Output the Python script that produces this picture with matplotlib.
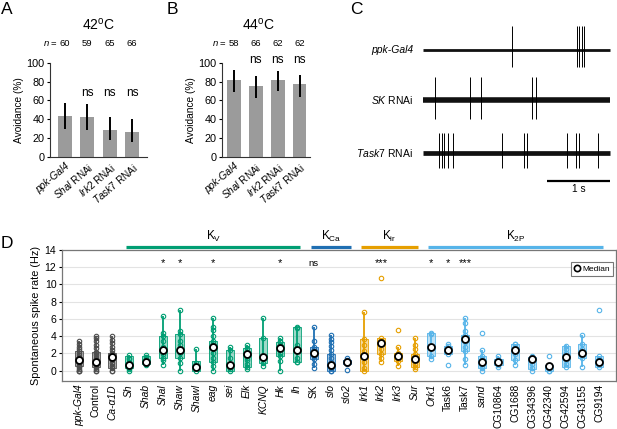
import matplotlib.pyplot as plt
from matplotlib.lines import Line2D
from matplotlib.patches import Rectangle
from matplotlib.transforms import blended_transform_factory
import numpy as np

plt.rcParams['font.family'] = ['Liberation Sans', 'DejaVu Sans']
plt.rcParams['mathtext.fontset'] = 'custom'
plt.rcParams['mathtext.rm'] = 'Liberation Sans'
plt.rcParams['mathtext.it'] = 'Liberation Sans:italic'
plt.rcParams['mathtext.bf'] = 'Liberation Sans:bold'

# ---- panel A / B: avoidance ----
avoid_labels = ['ppk-Gal4', r'$\mathit{Shal}$ RNAi', r'$\mathit{Irk2}$ RNAi', r'$\mathit{Task7}$ RNAi']
avoid_42 = [43, 42, 29, 27]
avoid_42_lo = [30, 29, 18, 16]
avoid_42_hi = [57, 56, 42, 40]
n_42 = [60, 59, 65, 66]
avoid_44 = [82, 75, 82, 77]
avoid_44_lo = [69, 63, 70, 64]
avoid_44_hi = [92, 86, 91, 87]
n_44 = [58, 66, 62, 62]

# ---- panel C: example traces (spike times in s) ----
trace_labels = ['ppk-Gal4', r'$\mathit{SK}$ RNAi', r'$\mathit{Task7}$ RNAi']
trace_len = 2.97
spikes_ppk = [1.41, 2.44, 2.48, 2.52, 2.55]
spikes_sk = [0.19, 0.75, 0.92, 1.73, 1.79]
spikes_task7 = [0.26, 0.30, 0.34, 0.39, 0.47, 1.26, 1.60, 1.65, 2.28, 2.43, 2.48, 2.77]

# ---- panel D: spontaneous spike rate ----
genes = ['ppk-Gal4', 'Control', 'Ca-α1D', 'Sh', 'Shab', 'Shal', 'Shaw', 'Shawl', 'eag', 'sei',
         'Elk', 'KCNQ', 'Hk', 'Ih', 'SK', 'slo', 'slo2', 'Irk1', 'Irk2', 'Irk3', 'Sur',
         'Ork1', 'Task6', 'Task7', 'sand', 'CG10864', 'CG1688', 'CG34396', 'CG42340',
         'CG42594', 'CG43155', 'CG9194']
gene_italic = [1, 0, 1, 1, 1, 1, 1, 1, 1, 1, 1, 1, 1, 1, 0, 1, 1, 1, 1, 1, 1, 1, 0, 0, 1,
               0, 0, 0, 0, 0, 0, 0]
gene_group = [0] * 3 + [1] * 11 + [2] * 3 + [3] * 4 + [4] * 11
group_names = ['', r'K$_\mathrm{V}$', r'K$_\mathrm{Ca}$', r'K$_\mathrm{ir}$', r'K$_\mathrm{2P}$']
rate_median = [1.23, 1.04, 1.54, 0.7, 0.96, 2.4, 2.4, 0.4, 2.77, 0.7, 1.9, 1.55, 2.58, 2.38,
               2.08, 0.7, 1.04, 1.65, 3.23, 1.7, 1.35, 2.7, 2.42, 3.73, 1.04, 1.04, 2.38,
               1.35, 0.5, 1.54, 2.0, 1.04]
rate_q1 = [0.5, 0.45, 0.3, 0.27, 0.75, 1.5, 1.5, 0.0, 1.0, 0.0, 0.45, 0.9, 1.73, 0.96,
           1.35, 0.0, 0.73, 0.0, 1.92, 1.15, 0.4, 1.73, 1.92, 2.3, 0.3, 0.65, 1.27, 0.2,
           0.0, 0.4, 1.46, 0.4]
rate_q3 = [2.3, 2.2, 2.0, 1.65, 1.75, 4.0, 4.2, 1.1, 3.5, 2.4, 2.6, 3.77, 3.35, 5.08,
           2.8, 1.9, 1.23, 3.73, 3.85, 2.1, 1.92, 4.42, 2.9, 4.1, 1.73, 1.35, 3.08, 1.54,
           0.65, 2.9, 3.08, 1.73]
rate_wlo = [0, 0, 0, 0, 0.7, 0.65, 0, 0, 0, 0, 0.2, 0.6, 0, 0.96, 0.3, 0, 0.73, 0, 0.96,
            0.6, 0.2, 1.35, 1.92, 0.7, 0, 0.4, 0.7, 0, 0, 0.4, 0.4, 0.4]
rate_whi = [3.4, 4.0, 4.0, 1.77, 1.77, 6.4, 7.0, 2.46, 6.08, 2.77, 3.0, 6.08, 3.8, 5.08,
            5.08, 4.1, 1.23, 6.8, 3.85, 2.8, 3.8, 4.42, 3.15, 6.08, 2.42, 1.73, 3.15, 1.73,
            0.65, 3.0, 4.1, 1.73]
rate_points = [
    [0, 0, 0, 0.2, 0.4, 0.5, 0.7, 0.9, 1.0, 1.2, 1.4, 1.6, 1.8, 2.0, 2.3, 2.5, 2.7, 3.1, 3.4],
    [0, 0, 0.2, 0.45, 0.6, 0.8, 1.0, 1.2, 1.5, 1.8, 2.0, 2.2, 2.6, 3.0, 3.4, 3.8, 4.0],
    [0, 0, 0.3, 0.6, 0.9, 1.2, 1.5, 1.8, 2.0, 2.4, 2.8, 3.2, 3.6, 4.0],
    [0, 0.2, 0.35, 0.7, 1.0, 1.3, 1.5, 1.77],
    [0.7, 0.8, 1.0, 1.3, 1.6, 1.77],
    [0.65, 1.2, 1.5, 1.9, 2.4, 2.8, 3.5, 4.0, 4.4, 6.4],
    [0, 0.9, 1.5, 2.0, 2.4, 3.0, 3.5, 4.2, 4.6, 7.0],
    [0, 0.4, 0.9, 2.46],
    [0, 0.5, 1.0, 1.5, 2.0, 2.77, 3.2, 3.5, 4.0, 4.7, 5.1, 6.08],
    [0, 0.2, 0.7, 1.5, 2.4, 2.77],
    [0.2, 0.45, 0.8, 1.2, 1.5, 1.9, 2.2, 2.6, 3.0],
    [0.6, 0.9, 1.55, 3.77, 6.08],
    [0, 1.15, 1.73, 2.0, 2.58, 3.0, 3.35, 3.5, 3.8],
    [0.96, 1.0, 1.5, 2.38, 3.0, 5.0, 5.08],
    [0.3, 0.8, 1.35, 1.7, 2.08, 2.5, 2.8, 3.5, 5.08],
    [0, 0, 0.3, 0.7, 1.0, 1.5, 1.9, 2.4, 2.9, 3.3, 3.65, 4.1],
    [0.1, 0.73, 1.04, 1.23, 1.46],
    [0, 0.3, 1.0, 1.65, 2.3, 3.0, 3.73, 6.8],
    [0.96, 1.5, 1.92, 2.5, 3.23, 3.5, 3.85, 10.77],
    [0.6, 1.15, 1.7, 2.1, 2.8, 4.73],
    [0.2, 0.4, 0.8, 1.35, 1.92, 2.5, 3.0, 3.8],
    [1.35, 1.73, 2.7, 4.2, 4.42],
    [0.7, 1.92, 2.42, 2.9, 3.15],
    [0.7, 1.3, 2.3, 2.8, 3.3, 3.73, 4.1, 4.6, 5.5, 6.08],
    [0, 0.3, 0.6, 1.04, 1.4, 1.73, 2.42, 4.38],
    [0.4, 0.65, 1.04, 1.35, 1.73],
    [0.7, 1.27, 1.9, 2.38, 2.8, 3.08, 3.15],
    [0, 0.3, 0.8, 1.35, 1.54, 1.73],
    [0, 0, 0.3, 0.5, 0.65, 1.73],
    [0.4, 0.8, 1.2, 1.54, 2.0, 2.5, 2.9],
    [0.4, 1.46, 2.0, 2.5, 3.08, 4.1],
    [0.4, 0.7, 1.04, 1.4, 1.73, 7.04],
]
sig_marks = ['', '', '', '', '', '*', '*', '', '*', '', '', '', '*', '', 'ns', '', '',
             '', '***', '', '', '*', '*', '***', '', '', '', '', '', '', '', '']

group_colors = ['#4d4d4d', '#009E73', '#1f6fb2', '#E69F00', '#56B4E9']
BAR_GRAY = '#9b9b9b'

W, H = 617, 429
fig = plt.figure(figsize=(W / 100, H / 100), dpi=100)


def px_axes(left, top, right, bottom):
    return fig.add_axes([left / W, 1 - bottom / H, (right - left) / W, (bottom - top) / H])


def avoid_panel(ax, vals, lo, hi, ns, title, title_x, xlim):
    x = np.arange(len(vals))
    ax.bar(x, vals, width=0.63, color=BAR_GRAY, zorder=1)
    ax.vlines(x, lo, hi, color='black', lw=1.4, zorder=2)
    ax.set_xlim(*xlim)
    ax.set_ylim(0, 100)
    ax.set_yticks(range(0, 101, 20))
    ax.set_xticks(x)
    ax.set_xticklabels(avoid_labels, rotation=40, ha='right', rotation_mode='anchor',
                       fontsize=7.2)
    ax.get_xticklabels()[0].set_fontstyle('italic')
    ax.tick_params(axis='x', length=0, pad=3)
    ax.tick_params(axis='y', labelsize=7.8, length=2.5, width=0.8, pad=1.5)
    ax.set_ylabel('Avoidance (%)', fontsize=7.3, labelpad=2)
    for side in ['top', 'right']:
        ax.spines[side].set_visible(False)
    for side in ['left', 'bottom']:
        ax.spines[side].set_color('#333333')
        ax.spines[side].set_linewidth(0.8)
    # significance and n
    ns_y = max(hi) + 4
    for xi in x[1:]:
        ax.text(xi, ns_y, 'ns', ha='center', va='bottom', fontsize=8.5, clip_on=False)
    for xi, n in zip(x, ns):
        ax.text(xi, 120, str(n), ha='center', va='center', fontsize=6.8, clip_on=False)
    ax.text(-0.3, 120, r'$n$ =', ha='right', va='center', fontsize=6.8, clip_on=False)
    ax.text(title_x, 140, title, ha='center', va='center', fontsize=10, clip_on=False)


ax_a = px_axes(50, 62.7, 147, 157)
avoid_panel(ax_a, avoid_42, avoid_42_lo, avoid_42_hi, n_42, r'42$^\mathrm{o}$C', 1.5,
            (-0.67, 3.67))
ax_b = px_axes(222, 62.7, 310, 157)
avoid_panel(ax_b, avoid_44, avoid_44_lo, avoid_44_hi, n_44, r'44$^\mathrm{o}$C', 1.1,
            (-0.55, 3.48))

# ---- C ----
ax_c = px_axes(423, 15, 612, 200)
ax_c.set_xlim(0, 3.0)
ax_c.set_ylim(200, 15)
ax_c.axis('off')
trace_spikes = [spikes_ppk, spikes_sk, spikes_task7]
trace_base = [50, 100, 153]
trace_band = [2.0, 4.0, 3.4]
trace_up = [24, 23, 20]
trace_down = [17, 19, 15]
for lab, sp, base, band, up, dn in zip(trace_labels, trace_spikes, trace_base,
                                        trace_band, trace_up, trace_down):
    ax_c.hlines(base, 0, trace_len, color='#111111', lw=band)
    ax_c.vlines(sp, base - up, base + dn, color='black', lw=0.7)
    t = ax_c.text(-0.16, base, lab, ha='right', va='center', fontsize=7.5)
    if lab == 'ppk-Gal4':
        t.set_fontstyle('italic')
ax_c.hlines(181, trace_len - 1, trace_len, color='black', lw=1.6)
ax_c.text(trace_len - 0.5, 189, '1 s', ha='center', va='center', fontsize=7.3)

# ---- D ----
ax_d = px_axes(62, 250, 616, 380.7)
xd = np.arange(len(genes))
for i in xd:
    c = group_colors[gene_group[i]]
    ax_d.vlines(i, rate_wlo[i], rate_whi[i], color=c, lw=1.3, zorder=2)
    ax_d.add_patch(Rectangle((i - 0.24, rate_q1[i]), 0.48, rate_q3[i] - rate_q1[i],
                             facecolor=c, alpha=0.38, edgecolor='none', zorder=2))
    ax_d.add_patch(Rectangle((i - 0.24, rate_q1[i]), 0.48, rate_q3[i] - rate_q1[i],
                             facecolor='none', edgecolor=c, lw=0.6, zorder=2))
    pts = rate_points[i]
    ax_d.plot([i] * len(pts), pts, 'o', ls='none', ms=3.2, mfc='none', mec=c, mew=0.8,
              zorder=3)
    ax_d.plot(i, rate_median[i], 'o', ms=5, mfc='white', mec='black', mew=1.3, zorder=4)
    if sig_marks[i]:
        ax_d.text(i, 12.45, sig_marks[i], ha='center', va='center',
                  fontsize=6.8 if sig_marks[i] == 'ns' else 8, zorder=5)

ax_d.set_xlim(-1, 32)
ax_d.set_ylim(-1.16, 14)
ax_d.set_yticks(range(0, 15, 2))
ax_d.yaxis.grid(True, color='#e3e3e3', lw=0.8, zorder=0)
ax_d.set_axisbelow(True)
ax_d.set_xticks(xd)
ax_d.set_xticklabels(genes, rotation=90, fontsize=7.4)
for t, it in zip(ax_d.get_xticklabels(), gene_italic):
    t.set_fontstyle('italic' if it else 'normal')
ax_d.tick_params(axis='x', length=0, pad=2.5)
ax_d.tick_params(axis='y', labelsize=7.6, length=2.5, width=0.8, pad=1.5)
ax_d.set_ylabel('Spontaneous spike rate (Hz)', fontsize=7.8, labelpad=3)
for side in ax_d.spines.values():
    side.set_color('#777777')
    side.set_linewidth(0.9)

trans = blended_transform_factory(ax_d.transData, ax_d.transAxes)
for g in range(1, len(group_names)):
    idx = [i for i in xd if gene_group[i] == g]
    a, b = idx[0] - 0.18, idx[-1] + 0.2
    ax_d.plot([a, b], [1.022, 1.022], transform=trans, color=group_colors[g], lw=2.3,
              solid_capstyle='butt', clip_on=False, zorder=6)
    ax_d.text((a + b) / 2, 1.105, group_names[g], transform=trans, ha='center',
              va='center', fontsize=8.5)

median_handle = Line2D([], [], marker='o', ls='none', ms=4.5, mfc='white', mec='black',
                       mew=1.2, label='Median')
leg = ax_d.legend(handles=[median_handle], loc='upper right', bbox_to_anchor=(0.995, 0.905),
                  borderaxespad=0, fontsize=6, frameon=True, fancybox=False,
                  handlelength=0.8, handletextpad=0.3, borderpad=0.35)
leg.get_frame().set_edgecolor('#555555')
leg.get_frame().set_linewidth(0.8)

# panel letters
for letter, px, py in [('A', 1, 10), ('B', 167, 10), ('C', 350, 10), ('D', 1, 244)]:
    fig.text(px / W, 1 - py / H, letter, fontsize=12.5, ha='left', va='center')

fig.savefig('out.png', dpi=100)
